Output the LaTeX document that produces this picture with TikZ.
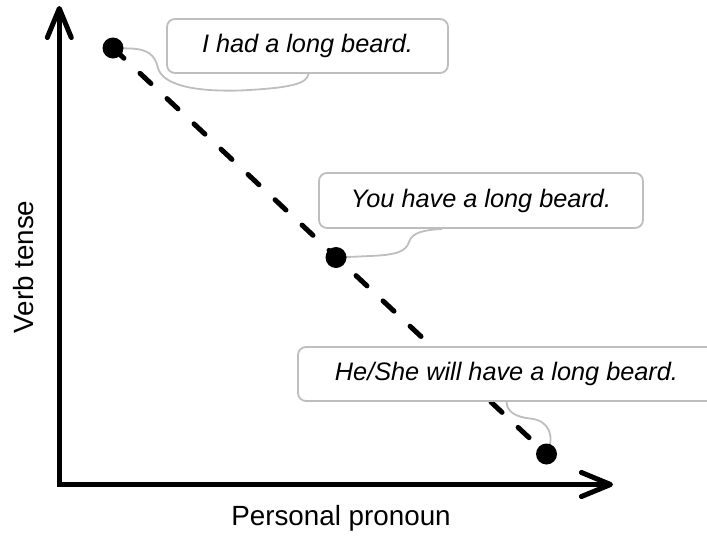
\documentclass[tikz,border=0pt]{standalone}
\usepackage{fontspec}
\setmainfont{Liberation Sans}
\usetikzlibrary{arrows.meta,calc,backgrounds}
\definecolor{bubblegray}{RGB}{190,190,190}
\begin{document}
\begin{tikzpicture}[x=1pt,y=-1pt,
  barb/.tip={Straight Barb[length=29pt,width=24pt,line cap=round,line join=round]},
  axis/.style={line width=5pt, line join=miter, barb-barb},
  trend/.style={line width=5pt, dash pattern=on 15pt off 22pt, line cap=round},
  dot/.style={circle, fill=black, inner sep=0pt, minimum size=21pt},
  bubble/.style={draw=bubblegray, line width=1.8pt, fill=white, rounded corners=8pt,
    inner sep=0pt, font=\fontsize{25.3}{29}\selectfont\itshape},
  tail/.style={draw=bubblegray, line width=1.8pt},
  axislabel/.style={font=\fontsize{27.8}{32}\selectfont}]
\useasboundingbox (0,0) rectangle (707,536);

% axes
\coordinate (ytip) at (59.3,6);
\coordinate (xtip) at (613,484.5);
\draw[axis] (ytip) |- (xtip);
\node[axislabel, rotate=90] (ylab) at (24,267) {Verb tense};
\node[axislabel] (xlab) at (341,518) {Personal pronoun};

% speech bubbles
\node[bubble, minimum width=281pt, minimum height=54pt] (b1) at (307.5,46) {I had a long beard.};
\node[bubble, minimum width=324pt, minimum height=55pt] (b2) at (481,200.5) {You have a long beard.};
\node[bubble, minimum width=417pt, minimum height=54pt] (b3) at (506.5,374) {He/She will have a long beard.};

% data points
\node[dot] (d1) at (113,48) {};
\node[dot] (d2) at (336,257.5) {};
\node[dot] (d3) at (546.5,454) {};

\begin{scope}[on background layer]
  % trend line
  \draw[trend] (d1.center) -- (d3.center);
  % bubble tails
  \draw[tail] ($(b1.south)+(1,0)$) .. controls (307,84) and (290,88) .. (240,90.5)
    .. controls (185,92) and (162,82) .. (158,68)
    .. controls (155,55) and (148,49) .. (130,48.5) -- (d1.center);
  \draw[tail] ($(b2.south)+(-39,0)$) .. controls (425,230) and (412,232) .. (409,242)
    .. controls (406,252) and (395,255) .. (370,256) -- (d2.center);
  \draw[tail] (b3.south) .. controls (507,412) and (516,417) .. (530,418.5)
    .. controls (548,420) and (556,435) .. (d3.center);
\end{scope}
\end{tikzpicture}
\end{document}
